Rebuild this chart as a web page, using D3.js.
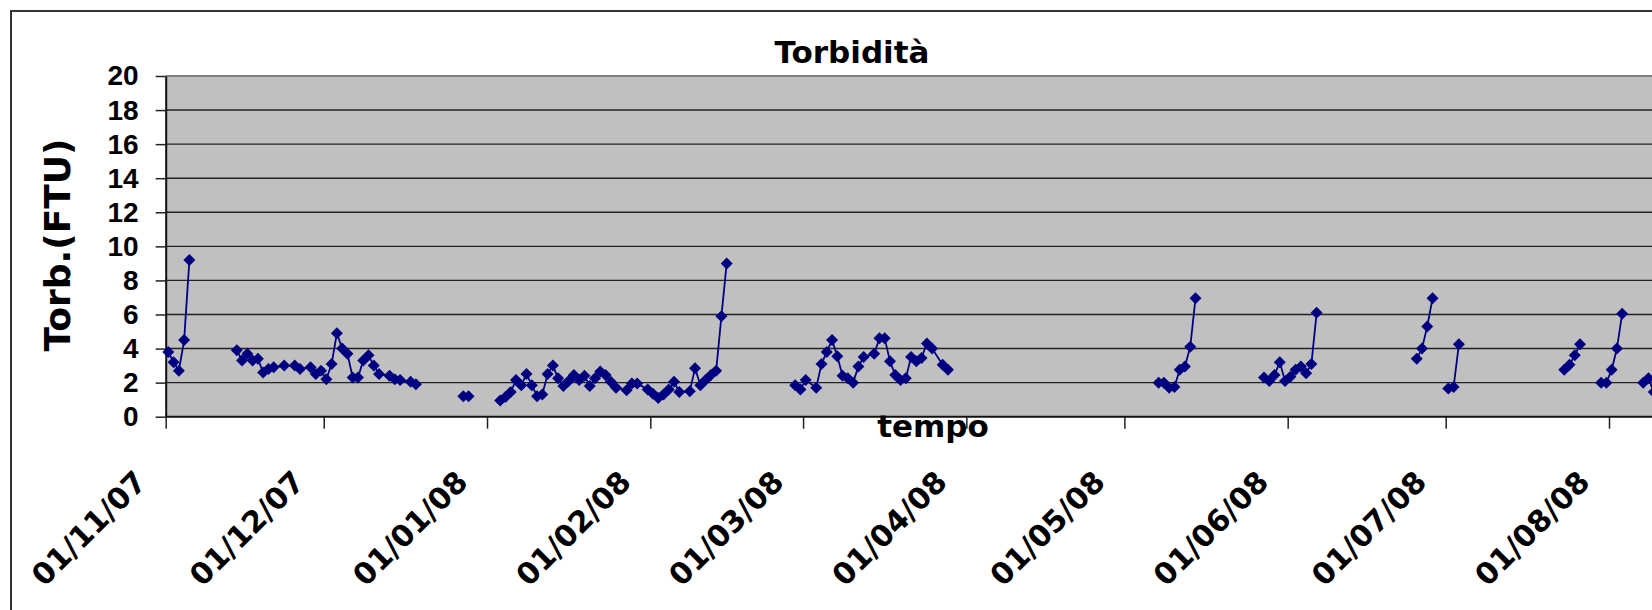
<!DOCTYPE html>
<html>
<head>
<meta charset="utf-8">
<script src="https://cdn.jsdelivr.net/npm/d3@7"></script>
<style>
  body { margin: 0; background: #fff; }
  svg { display: block; }
</style>
</head>
<body>
<div id="chart"></div>
<script>
// measurement dates (null value = blank cell, breaks the line)
const dates = [
  "2007-11-01","2007-11-02","2007-11-03","2007-11-04","2007-11-05","2007-11-06",
  "2007-11-14","2007-11-15","2007-11-16","2007-11-17","2007-11-18","2007-11-19","2007-11-20","2007-11-21",
  "2007-11-23","2007-11-25","2007-11-26","2007-11-28","2007-11-29","2007-11-30","2007-12-01","2007-12-02",
  "2007-12-03","2007-12-04","2007-12-05","2007-12-06","2007-12-07","2007-12-08","2007-12-09","2007-12-10",
  "2007-12-11","2007-12-13","2007-12-14","2007-12-15","2007-12-17","2007-12-18","2007-12-19",
  "2007-12-27","2007-12-28","2007-12-29",
  "2008-01-03","2008-01-04","2008-01-05","2008-01-06","2008-01-07","2008-01-08","2008-01-09","2008-01-10",
  "2008-01-11","2008-01-12","2008-01-13","2008-01-14","2008-01-15","2008-01-16","2008-01-17","2008-01-18",
  "2008-01-19","2008-01-20","2008-01-21","2008-01-22","2008-01-23","2008-01-24","2008-01-25","2008-01-27",
  "2008-01-28","2008-01-29","2008-01-31","2008-02-01","2008-02-02","2008-02-03","2008-02-04","2008-02-05",
  "2008-02-06","2008-02-08","2008-02-09","2008-02-10","2008-02-11","2008-02-12","2008-02-13","2008-02-14",
  "2008-02-15","2008-02-16",
  "2008-02-28","2008-02-29","2008-03-01","2008-03-03","2008-03-04","2008-03-05","2008-03-06","2008-03-07",
  "2008-03-08","2008-03-09","2008-03-10","2008-03-11","2008-03-12","2008-03-14","2008-03-15","2008-03-16",
  "2008-03-17","2008-03-18","2008-03-19","2008-03-20","2008-03-21","2008-03-22","2008-03-23","2008-03-24",
  "2008-03-25","2008-03-27","2008-03-28","2008-03-29",
  "2008-05-07","2008-05-08","2008-05-09","2008-05-10","2008-05-11","2008-05-12","2008-05-13","2008-05-14","2008-05-15",
  "2008-05-27","2008-05-28","2008-05-29","2008-05-30","2008-05-31","2008-06-01","2008-06-02","2008-06-03",
  "2008-06-04","2008-06-05","2008-06-06","2008-06-07",
  "2008-06-25","2008-06-26","2008-06-27","2008-06-28","2008-06-29",
  "2008-07-01","2008-07-02","2008-07-03","2008-07-04",
  "2008-07-23","2008-07-24","2008-07-25","2008-07-26","2008-07-27",
  "2008-07-30","2008-07-31","2008-08-01","2008-08-02","2008-08-03","2008-08-04",
  "2008-08-07","2008-08-08","2008-08-09"
];

// turbidity (FTU)
const torb = [
  3.8, 3.2, 2.7, 4.5, 9.2, null,
  3.9, 3.3, 3.7, 3.3, 3.4, 2.6, 2.8, 2.9,
  3.0, 3.0, 2.8, 2.9, 2.5, 2.7, 2.2, 3.1,
  4.9, 4.0, 3.7, 2.3, 2.3, 3.3, 3.6, 3.0,
  2.5, 2.4, 2.2, 2.15, 2.05, 1.9, null,
  1.2, 1.2, null,
  0.95, 1.15, 1.45, 2.15, 1.85, 2.5, 1.85, 1.2,
  1.3, 2.5, 3.0, 2.25, 1.8, 2.1, 2.45, 2.15,
  2.4, 1.8, 2.25, 2.65, 2.45, 2.05, 1.7, 1.55,
  1.95, 1.95, 1.6, 1.35, 1.1, 1.3, 1.6, 2.05,
  1.45, 1.5, 2.85, 1.85, 2.15, 2.45, 2.7, 5.9,
  9.0, null,
  1.85, 1.6, 2.15, 1.7, 3.1, 3.8, 4.5, 3.55,
  2.4, 2.25, 2.0, 2.95, 3.5, 3.7, 4.6, 4.6,
  3.25, 2.45, 2.15, 2.25, 3.5, 3.25, 3.45, 4.3,
  4.0, 3.05, 2.75, null,
  2.0, 2.0, 1.7, 1.75, 2.75, 2.95, 4.1, 6.95, null,
  2.3, 2.1, 2.45, 3.2, 2.1, 2.35, 2.75, 2.95,
  2.55, 3.1, 6.1, null,
  3.4, 4.0, 5.3, 6.95, null,
  1.65, 1.75, 4.25, null,
  2.75, 3.05, 3.6, 4.25, null,
  2.0, 2.0, 2.75, 4.0, 6.05, null,
  2.0, 2.25, 1.45
];

const yTicks = [0, 2, 4, 6, 8, 10, 12, 14, 16, 18, 20];
const xStart = "2007-11-01", xEnd = "2008-08-01";
const chartTitle = "Torbidità", yTitle = "Torb.(FTU)", xTitle = "tempo";

const width = 1652, height = 610;
const plotLeft = 165.7, plotTop = 76, plotBottom = 416.7;
const font = "'DejaVu Sans', sans-serif";
const numFont = "'Liberation Sans', Arial, sans-serif";

const parse = d3.utcParse("%Y-%m-%d");
const data = dates.map((d, i) => ({ date: parse(d), value: torb[i] }));

const x = d3.scaleUtc().domain([parse(xStart), parse(xEnd)]).range([plotLeft, 1609]);
const y = d3.scaleLinear().domain([0, 20]).range([plotBottom, plotTop]);
// points sit in the middle of their day
const px = d => x(d3.utcHour.offset(d, 12));

const svg = d3.select("#chart").append("svg")
  .attr("width", width)
  .attr("height", height);

// outer chart frame (runs off the picture on the right and bottom)
svg.append("rect")
  .attr("x", 11).attr("y", 11)
  .attr("width", width + 50).attr("height", height + 50)
  .attr("fill", "none")
  .attr("stroke", "#333")
  .attr("stroke-width", 2);

// plot area
svg.append("rect")
  .attr("x", plotLeft).attr("y", plotTop)
  .attr("width", width - plotLeft + 20).attr("height", plotBottom - plotTop)
  .attr("fill", "#c0c0c0");

// gridlines
svg.append("g").selectAll("line")
  .data(yTicks.filter(t => t > 0 && t < 20))
  .join("line")
  .attr("x1", plotLeft).attr("x2", width + 20)
  .attr("y1", d => y(d)).attr("y2", d => y(d))
  .attr("stroke", "#222")
  .attr("stroke-width", 1.4);

svg.append("line")
  .attr("x1", plotLeft).attr("x2", width + 20)
  .attr("y1", y(20)).attr("y2", y(20))
  .attr("stroke", "#808080")
  .attr("stroke-width", 2);

// y axis
const yAxis = svg.append("g")
  .attr("transform", "translate(" + plotLeft + ",0)")
  .call(d3.axisLeft(y).tickValues(yTicks).tickSize(10).tickSizeOuter(0).tickPadding(17));
yAxis.select(".domain").attr("stroke", "#111").attr("stroke-width", 2);
yAxis.selectAll(".tick line").attr("stroke", "#222").attr("stroke-width", 1.5);
yAxis.selectAll("text")
  .attr("fill", "#000")
  .style("font-family", numFont)
  .style("font-weight", "bold")
  .style("font-size", "28px");

// x axis
const xAxis = svg.append("g")
  .attr("transform", "translate(0," + plotBottom + ")")
  .call(d3.axisBottom(x)
    .tickValues(d3.utcMonth.range(parse(xStart), d3.utcMonth.offset(parse(xEnd), 1)))
    .tickFormat(d3.utcFormat("%d/%m/%y"))
    .tickSize(12).tickSizeOuter(0));
xAxis.select(".domain").attr("d", "M" + plotLeft + ",0H" + (width + 20))
  .attr("stroke", "#111").attr("stroke-width", 2);
xAxis.selectAll(".tick line").attr("stroke", "#222").attr("stroke-width", 1.5);
xAxis.selectAll("text")
  .attr("x", 0).attr("y", 0).attr("dy", 0)
  .attr("text-anchor", "end")
  .attr("transform", "translate(-18,67) rotate(-45)")
  .attr("fill", "#000")
  .style("font-family", font)
  .style("font-weight", "bold")
  .style("font-size", "30px");

// series line
const line = d3.line()
  .defined(d => d.value !== null)
  .x(d => px(d.date))
  .y(d => y(d.value));

svg.append("path")
  .datum(data)
  .attr("d", line)
  .attr("fill", "none")
  .attr("stroke", "#000080")
  .attr("stroke-width", 1.8);

// diamond markers
svg.append("g").selectAll("path")
  .data(data.filter(d => d.value !== null))
  .join("path")
  .attr("transform", d => "translate(" + px(d.date) + "," + y(d.value) + ")")
  .attr("d", "M0,-6L6,0L0,6L-6,0Z")
  .attr("fill", "#000080");

// titles
svg.append("text")
  .attr("x", 852).attr("y", 63)
  .attr("text-anchor", "middle")
  .style("font-family", font)
  .style("font-weight", "bold")
  .style("font-size", "31px")
  .text(chartTitle);

svg.append("text")
  .attr("x", 933).attr("y", 437)
  .attr("text-anchor", "middle")
  .style("font-family", font)
  .style("font-weight", "bold")
  .style("font-size", "31px")
  .text(xTitle);

svg.append("text")
  .attr("transform", "translate(70,245) rotate(-90)")
  .attr("text-anchor", "middle")
  .style("font-family", font)
  .style("font-weight", "bold")
  .style("font-size", "36px")
  .text(yTitle);
</script>
</body>
</html>
